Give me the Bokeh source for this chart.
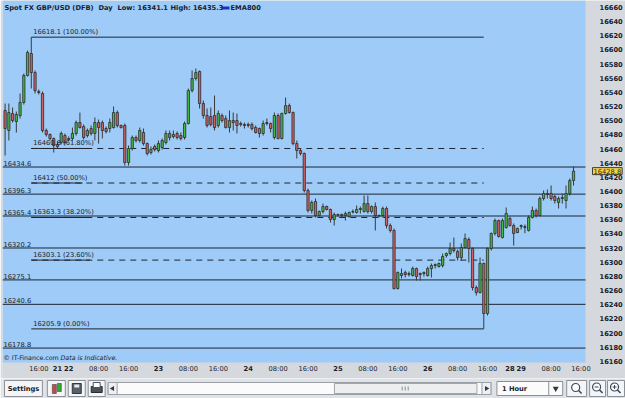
import numpy as np
from bokeh.plotting import figure
from bokeh.models import (Range1d, FixedTicker, BoxAnnotation, Label, LinearAxis,
                          LabelSet, ColumnDataSource)
from bokeh.layouts import column
from bokeh.embed import file_html
from bokeh.resources import INLINE
from bokeh.core.properties import value

# ---------------- data (hourly candles) ----------------
opens = [16514.5, 16486.2, 16510.2, 16498.9, 16507.4, 16525.8, 16563.9, 16595.0, 16568.1, 16541.3,
         16538.5, 16486.2, 16480.5, 16474.9, 16466.4, 16469.2, 16479.1, 16473.5, 16474.9, 16482.0,
         16497.5, 16491.8, 16479.1, 16489.0, 16482.0, 16497.5, 16497.5, 16489.0, 16489.0, 16490.4,
         16511.6, 16493.3, 16493.3, 16441.0, 16460.8, 16476.3, 16472.1, 16483.4, 16467.8, 16455.1,
         16463.6, 16457.9, 16462.2, 16469.2, 16482.0, 16477.7, 16482.0, 16479.1, 16476.3, 16496.1,
         16542.7, 16559.7, 16569.6, 16524.3, 16507.4, 16506.0, 16507.4, 16493.3, 16507.4, 16503.1,
         16490.4, 16500.3, 16500.3, 16496.1, 16494.7, 16494.7, 16494.7, 16490.4, 16489.0, 16482.0,
         16497.5, 16496.1, 16476.3, 16507.4, 16474.9, 16510.2, 16521.5, 16511.6, 16467.8, 16457.9,
         16453.7, 16401.4, 16373.2, 16385.9, 16366.1, 16371.7, 16378.8, 16374.6, 16360.4, 16367.5,
         16367.5, 16366.1, 16364.7, 16371.7, 16370.3, 16374.6, 16371.7, 16383.0, 16371.7, 16378.8,
         16366.1, 16366.1, 16376.0, 16351.9, 16344.9, 16262.9, 16281.3, 16285.5, 16284.1, 16281.3,
         16291.2, 16284.1, 16284.1, 16281.3, 16291.2, 16295.4, 16294.0, 16295.4, 16309.6, 16312.4,
         16319.5, 16315.2, 16306.7, 16320.9, 16332.2, 16319.5, 16264.3, 16257.3, 16298.3, 16227.6,
         16319.5, 16340.7, 16359.0, 16335.0, 16349.1, 16361.8, 16351.9, 16342.1, 16350.5, 16349.1,
         16344.9, 16363.3, 16373.2, 16366.1, 16390.1, 16395.8, 16397.2, 16392.9, 16384.5, 16390.1,
         16387.3, 16397.2, 16415.5]
highs = [16524.3, 16524.3, 16518.7, 16513.0, 16538.5, 16566.7, 16599.2, 16618.1, 16571.0, 16544.1,
         16541.3, 16489.0, 16482.0, 16476.3, 16470.7, 16484.8, 16482.0, 16477.7, 16490.4, 16500.3,
         16511.6, 16494.7, 16489.0, 16493.3, 16504.6, 16501.7, 16500.3, 16491.8, 16503.1, 16520.1,
         16514.5, 16494.7, 16496.1, 16465.0, 16479.1, 16479.1, 16490.4, 16489.0, 16469.2, 16463.6,
         16466.4, 16472.1, 16474.9, 16486.2, 16486.2, 16486.2, 16484.8, 16483.4, 16498.9, 16545.5,
         16571.0, 16573.8, 16571.0, 16528.6, 16517.3, 16518.7, 16535.6, 16514.5, 16510.2, 16507.4,
         16514.5, 16511.6, 16510.2, 16498.9, 16497.5, 16497.5, 16497.5, 16493.3, 16490.4, 16500.3,
         16503.1, 16497.5, 16511.6, 16510.2, 16511.6, 16532.8, 16524.3, 16513.0, 16472.1, 16460.8,
         16455.1, 16404.2, 16387.3, 16390.1, 16373.2, 16383.0, 16380.2, 16376.0, 16370.3, 16368.9,
         16368.9, 16371.7, 16371.7, 16374.6, 16380.2, 16378.8, 16394.3, 16394.3, 16380.2, 16384.5,
         16367.5, 16378.8, 16378.8, 16354.8, 16347.7, 16287.0, 16291.2, 16288.4, 16287.0, 16294.0,
         16292.6, 16285.5, 16287.0, 16294.0, 16298.3, 16298.3, 16299.7, 16312.4, 16313.8, 16327.9,
         16335.0, 16318.0, 16326.5, 16340.7, 16335.0, 16320.9, 16267.2, 16306.7, 16299.7, 16320.9,
         16342.1, 16361.8, 16360.4, 16361.8, 16377.4, 16364.7, 16354.8, 16349.1, 16353.4, 16353.4,
         16366.1, 16378.8, 16376.0, 16392.9, 16401.4, 16402.8, 16408.5, 16395.8, 16392.9, 16397.2,
         16408.5, 16418.4, 16435.3]
lows = [16450.9, 16472.1, 16497.5, 16483.4, 16503.1, 16522.9, 16562.5, 16545.5, 16538.5, 16537.1,
        16483.4, 16477.7, 16472.1, 16455.1, 16460.8, 16466.4, 16466.4, 16470.7, 16472.1, 16479.1,
        16489.0, 16473.5, 16476.3, 16479.1, 16472.1, 16467.8, 16474.9, 16482.0, 16483.4, 16489.0,
        16490.4, 16489.0, 16436.7, 16436.7, 16457.9, 16469.2, 16469.2, 16465.0, 16450.9, 16452.3,
        16456.5, 16455.1, 16459.3, 16466.4, 16472.1, 16474.9, 16473.5, 16472.1, 16473.5, 16494.7,
        16539.9, 16556.8, 16517.3, 16503.1, 16490.4, 16491.8, 16486.2, 16490.4, 16497.5, 16489.0,
        16483.4, 16486.2, 16482.0, 16491.8, 16489.0, 16490.4, 16486.2, 16482.0, 16476.3, 16479.1,
        16493.3, 16483.4, 16473.5, 16473.5, 16473.5, 16508.8, 16510.2, 16465.0, 16446.6, 16450.9,
        16398.6, 16370.3, 16368.9, 16363.3, 16364.7, 16368.9, 16373.2, 16356.2, 16351.9, 16364.7,
        16363.3, 16359.0, 16363.3, 16368.9, 16368.9, 16368.9, 16370.3, 16368.9, 16368.9, 16344.9,
        16363.3, 16363.3, 16347.7, 16342.1, 16261.5, 16261.5, 16277.1, 16278.5, 16279.9, 16279.9,
        16274.2, 16274.2, 16279.9, 16279.9, 16278.5, 16291.2, 16292.6, 16292.6, 16306.7, 16309.6,
        16313.8, 16302.5, 16302.5, 16319.5, 16299.7, 16260.1, 16253.0, 16255.9, 16205.9, 16224.8,
        16316.6, 16337.8, 16335.0, 16333.6, 16347.7, 16350.5, 16323.7, 16341.1, 16346.3, 16341.1,
        16343.5, 16361.8, 16363.3, 16364.7, 16387.3, 16390.1, 16387.3, 16383.0, 16376.0, 16383.0,
        16376.0, 16394.3, 16408.5]
closes = [16489.0, 16511.6, 16500.3, 16508.8, 16525.8, 16563.9, 16596.4, 16568.1, 16542.7, 16539.9,
          16486.2, 16480.5, 16474.9, 16465.0, 16463.6, 16482.0, 16469.2, 16474.9, 16482.0, 16497.5,
          16490.4, 16476.3, 16486.2, 16482.0, 16497.5, 16490.4, 16486.2, 16484.8, 16497.5, 16511.6,
          16493.3, 16490.4, 16441.0, 16460.8, 16476.3, 16472.1, 16486.2, 16467.8, 16453.7, 16459.3,
          16459.3, 16467.8, 16472.1, 16482.0, 16476.3, 16480.5, 16476.3, 16474.9, 16496.1, 16542.7,
          16559.7, 16568.1, 16524.3, 16507.4, 16493.3, 16494.7, 16490.4, 16510.2, 16500.3, 16490.4,
          16500.3, 16497.5, 16493.3, 16494.7, 16493.3, 16493.3, 16489.0, 16483.4, 16482.0, 16496.1,
          16496.1, 16489.0, 16507.4, 16474.9, 16510.2, 16521.5, 16511.6, 16467.8, 16457.9, 16453.7,
          16401.4, 16373.2, 16384.5, 16366.1, 16371.7, 16378.8, 16374.6, 16360.4, 16367.5, 16366.8,
          16366.1, 16368.9, 16370.3, 16371.0, 16374.6, 16376.0, 16383.0, 16371.7, 16378.8, 16366.1,
          16365.4, 16376.0, 16351.9, 16344.9, 16262.9, 16285.5, 16284.1, 16282.7, 16282.7, 16291.2,
          16279.9, 16282.7, 16285.5, 16291.2, 16295.4, 16296.8, 16298.3, 16308.2, 16312.4, 16319.5,
          16316.6, 16306.7, 16320.9, 16333.6, 16319.5, 16264.3, 16257.3, 16298.3, 16227.6, 16319.5,
          16340.7, 16359.0, 16336.4, 16359.0, 16368.9, 16351.9, 16340.7, 16347.7, 16351.9, 16350.5,
          16363.3, 16373.2, 16366.1, 16390.1, 16397.2, 16397.2, 16390.1, 16387.3, 16390.1, 16391.5,
          16397.2, 16415.5, 16428.8]

instrument = "Spot FX GBP/USD (DFB)"
period = "Day"
day_low = 16341.1
day_high = 16435.3
last_price = 16428.8
indicator = "EMA800"

levels = [16434.6, 16396.3, 16365.4, 16320.2, 16275.1, 16240.6, 16178.8]
fib_values = [16618.1, 16460.8, 16412.0, 16363.3, 16303.1, 16205.9]
fib_texts = ["16618.1", "16460.8", "16412", "16363.3", "16303.1", "16205.9"]
fib_pcts = ["100.00%", "61.80%", "50.00%", "38.20%", "23.60%", "0.00%"]
fib_from_bar = 7
fib_to_bar = 128

time_tick_bars = [9, 25, 33, 49, 57, 73, 81, 97, 105, 121, 129, 146, 154]
time_tick_labels = ["16:00", "08:00", "16:00", "08:00", "16:00", "08:00", "16:00",
                    "08:00", "16:00", "08:00", "16:00", "08:00", "16:00"]
day_tick_bars = [14, 17, 41, 65, 89, 113, 135, 138]
day_tick_labels = ["21", "22", "23", "24", "25", "26", "28", "29"]
price_ticks = [16160, 16180, 16200, 16220, 16240, 16260, 16280, 16300, 16320, 16340, 16360,
               16380, 16400, 16420, 16440, 16460, 16480, 16500, 16520, 16540, 16560, 16580,
               16600, 16620, 16640, 16660]

# ---------------- styles / layout ----------------
FONT = "DejaVu Sans"
FS = "6.7px"
BLUE = "#9ecbf7"
GREY = "#d5d9de"
TXT = "#18202c"
LINE = "#1d2533"
UP = "#45b845"
DOWN = "#cc6262"
EDGE = "#2c2c2c"
X_START, AREA_RIGHT, X_END = -0.7, 155.2, 165.9   # blue chart area ends at AREA_RIGHT
Y_START, AREA_BOTTOM, Y_END = 16135.8, 16158.4, 16669.9

p = figure(width=625, height=378, output_backend="svg", toolbar_location=None, tools="",
           x_range=Range1d(X_START, X_END), y_range=Range1d(Y_START, Y_END),
           x_axis_location=None, y_axis_location=None,
           min_border_left=2, min_border_right=0, min_border_top=0, min_border_bottom=0)
p.background_fill_color = GREY
p.border_fill_color = GREY
p.outline_line_color = None
p.grid.visible = False

# blue chart area
p.add_layout(BoxAnnotation(bottom=AREA_BOTTOM, right=AREA_RIGHT, fill_color=BLUE,
                           fill_alpha=1.0, line_color=None, level="image"))

# price axis, drawn at the right edge of the blue area
ax = LinearAxis(ticker=FixedTicker(ticks=price_ticks), fixed_location=AREA_RIGHT)
ax.major_label_text_font = FONT
ax.major_label_text_font_size = FS
ax.major_label_text_font_style = "bold"
ax.major_label_text_color = TXT
ax.axis_line_color = None
ax.major_tick_line_color = None
ax.minor_tick_line_color = None
ax.major_label_standoff = 8
p.add_layout(ax, "right")

# horizontal support / resistance levels
p.segment(x0=[X_START] * len(levels), x1=[AREA_RIGHT] * len(levels), y0=levels, y1=levels,
          line_color=LINE, line_width=1, level="underlay")
for v in levels:
    p.add_layout(Label(x=1, x_units="screen", y=v, text=f"{v:.1f}", text_font=FONT,
                       text_font_size=FS, text_color=TXT, text_baseline="bottom",
                       y_offset=1))

# fibonacci retracement
n_f = len(fib_values)
solid_idx = [0, n_f - 1]
dash_idx = [k for k in range(n_f) if k not in solid_idx]
p.segment(x0=[fib_from_bar] * len(solid_idx), x1=[fib_to_bar] * len(solid_idx),
          y0=[fib_values[k] for k in solid_idx], y1=[fib_values[k] for k in solid_idx],
          line_color=LINE, line_width=1, level="underlay")
p.segment(x0=[fib_from_bar] * len(dash_idx), x1=[fib_to_bar] * len(dash_idx),
          y0=[fib_values[k] for k in dash_idx], y1=[fib_values[k] for k in dash_idx],
          line_color=LINE, line_width=1, line_dash="6 5", level="underlay")
for k in range(n_f):
    txt = f"{fib_texts[k]} ({fib_pcts[k]})"
    if k in dash_idx:
        p.segment(x0=[fib_from_bar], x1=[fib_from_bar + len(txt) * 0.98],
                  y0=[fib_values[k]], y1=[fib_values[k]],
                  line_color=LINE, line_width=1, level="underlay")
    p.add_layout(Label(x=fib_from_bar, y=fib_values[k], x_offset=2, y_offset=1,
                       text=txt, text_font=FONT, text_font_size=FS, text_color=TXT,
                       text_baseline="bottom"))

# candles
o = np.array(opens); h = np.array(highs); l = np.array(lows); c = np.array(closes)
x = np.arange(len(o))
up = c >= o
p.segment(x0=x, x1=x, y0=l, y1=h, line_color="#3a3a3a", line_width=1)
p.vbar(x=x[up], width=0.6, top=c[up], bottom=o[up], fill_color=UP,
       line_color=EDGE, line_width=0.8)
p.vbar(x=x[~up], width=0.6, top=o[~up], bottom=c[~up], fill_color=DOWN,
       line_color=EDGE, line_width=0.8)

# header
hdr = [(2, instrument), (96, period), (115, f"Low: {day_low}"), (168, f"High: {day_high}"),
       (228, indicator)]
for sx, txt in hdr:
    p.add_layout(Label(x=sx, y=371, x_units="screen", y_units="screen", text=txt,
                       text_font=FONT, text_font_size=FS, text_font_style="bold",
                       text_color=TXT, text_baseline="middle"))
p.add_layout(BoxAnnotation(left=219, right=227, top=372, bottom=369,
                           left_units="screen", right_units="screen",
                           top_units="screen", bottom_units="screen",
                           fill_color="#1830c8", fill_alpha=1.0, line_color=None))

# footer notes
p.add_layout(Label(x=1, y=21, x_units="screen", y_units="screen", text="\u00a9 IT-Finance.com",
                   text_font=FONT, text_font_size="6.3px", text_color=TXT, text_baseline="middle"))
p.add_layout(Label(x=58, y=21, x_units="screen", y_units="screen", text="Data is Indicative.",
                   text_font=FONT, text_font_size="6.3px", text_font_style="italic",
                   text_color=TXT, text_baseline="middle"))

# x labels (times normal, days bold)
src_t = ColumnDataSource(dict(x=time_tick_bars, y=[10] * len(time_tick_bars), t=time_tick_labels))
src_d = ColumnDataSource(dict(x=day_tick_bars, y=[10] * len(day_tick_bars), t=day_tick_labels))
p.add_layout(LabelSet(x="x", y="y", text="t", source=src_t, y_units="screen",
                      text_font=value(FONT), text_font_size=value(FS), text_color=TXT,
                      text_align="center", text_baseline="middle"))
p.add_layout(LabelSet(x="x", y="y", text="t", source=src_d, y_units="screen",
                      text_font=value(FONT), text_font_size=value(FS), text_font_style="bold",
                      text_color=TXT, text_align="center", text_baseline="middle"))

# last price tag on the price axis
p.add_layout(Label(x=AREA_RIGHT, y=last_price, x_offset=7, text=f"{last_price}",
                   text_font=FONT, text_font_size=FS, text_color=TXT,
                   text_baseline="middle", background_fill_color="#f7d348",
                   border_line_color="#3a3a3a", padding=1))

# ---------------- bottom tool strip ----------------
t = figure(width=625, height=20, output_backend="svg", toolbar_location=None, tools="",
           x_range=Range1d(0, 625), y_range=Range1d(20, 0),
           x_axis_location=None, y_axis_location=None,
           min_border_left=0, min_border_right=0, min_border_top=0, min_border_bottom=0)
t.background_fill_color = "#dfe2e6"
t.border_fill_color = "#dfe2e6"
t.outline_line_color = None
t.grid.visible = False

btn_l = [2, 45, 66, 86, 566, 589, 607]
btn_r = [40, 63, 83, 103, 586, 605, 624]
t.quad(left=btn_l, right=btn_r, top=[2] * 7, bottom=[18] * 7,
       fill_color="#f4f5f7", line_color="#8b9096", line_width=1)
t.text(x=[21], y=[10], text=["Settings"], text_font=value(FONT), text_font_size=FS,
       text_font_style="bold", text_color=TXT, text_align="center", text_baseline="middle")
# icons
t.quad(left=[50, 55], right=[54, 59], top=[6, 5], bottom=[15, 13],
       fill_color=["#c84a4a", "#3aa53a"], line_color="#404040", line_width=0.6)
t.quad(left=[70], right=[79], top=[5], bottom=[15], fill_color="#58626c", line_color="#30363c")
t.quad(left=[72], right=[77], top=[6], bottom=[9], fill_color="#e8eaec", line_color=None)
t.quad(left=[89], right=[100], top=[8], bottom=[14], fill_color="#4a525a", line_color="#2a2e32")
t.quad(left=[91], right=[98], top=[4], bottom=[9], fill_color="#ffffff", line_color="#4a525a")
# scrollbar
t.quad(left=[106], right=[490], top=[4], bottom=[16], fill_color="#fbfbfb",
       line_color="#9aa0a6")
t.quad(left=[106, 481], right=[115, 490], top=[4, 4], bottom=[16, 16],
       fill_color="#eef0f2", line_color="#9aa0a6")
t.scatter(x=[110.5, 485.5], y=[10, 10], marker="triangle", size=5,
          angle=[np.pi / 2, -np.pi / 2], fill_color="#303840", line_color=None)
t.quad(left=[333], right=[476], top=[5], bottom=[15], fill_color="#eceef0",
       line_color="#a2a6aa")
t.segment(x0=[401, 404, 407], x1=[401, 404, 407], y0=[8] * 3, y1=[12] * 3,
          line_color="#8a8e92", line_width=1)
# period dropdown
t.quad(left=[496], right=[562], top=[3], bottom=[17], fill_color="#fbfbfb",
       line_color="#8b9096")
t.segment(x0=[548], x1=[548], y0=[3], y1=[17], line_color="#8b9096")
t.text(x=[501], y=[10], text=["1 Hour"], text_font=value(FONT), text_font_size=FS,
       text_font_style="bold", text_color=TXT, text_baseline="middle")
t.scatter(x=[555], y=[10], marker="inverted_triangle", size=6, fill_color="#303840",
          line_color=None)
# zoom icons
t.scatter(x=[575, 596, 614], y=[9, 8.5, 8.5], marker="circle", size=8,
          fill_color="#ffffff", line_color="#3a4a5c", line_width=1.2)
t.segment(x0=[578, 599, 617], x1=[581, 602, 620], y0=[12, 11.5, 11.5], y1=[15, 14.5, 14.5],
          line_color="#3a4a5c", line_width=1.6)
t.segment(x0=[594, 612, 614], x1=[598, 616, 614], y0=[8.5, 8.5, 6.5], y1=[8.5, 8.5, 10.5],
          line_color="#3a4a5c", line_width=1)

layout = column(p, t, spacing=0)
open("out.html", "w").write(file_html(layout, INLINE, title="Spot FX GBP/USD"))
